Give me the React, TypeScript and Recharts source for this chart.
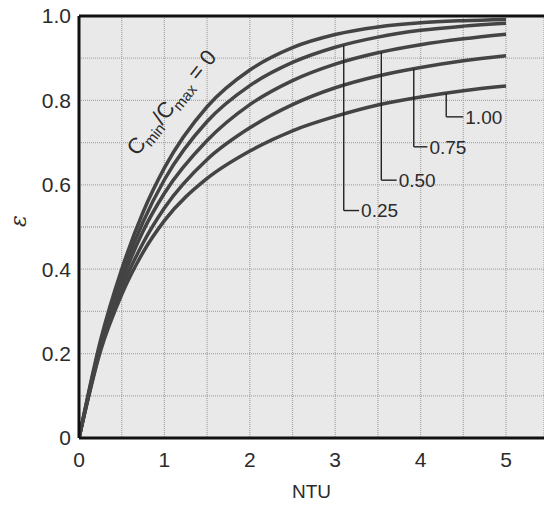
import React from "react";
import {
  LineChart,
  Line,
  XAxis,
  YAxis,
  CartesianGrid,
  ReferenceLine,
  ReferenceDot,
} from "recharts";

// NTU sample points and effectiveness, one array per Cmin/Cmax
const ntu = [0, 0.25, 0.5, 0.75, 1, 1.5, 2, 2.5, 3, 3.5, 4, 4.5, 5];
const effCr000 = [0, 0.23, 0.4, 0.535, 0.64, 0.785, 0.872, 0.925, 0.956, 0.974, 0.984, 0.989, 0.992];
const effCr025 = [0, 0.222, 0.385, 0.512, 0.612, 0.75, 0.835, 0.89, 0.926, 0.95, 0.966, 0.976, 0.983];
const effCr050 = [0, 0.215, 0.37, 0.49, 0.58, 0.705, 0.79, 0.847, 0.886, 0.913, 0.932, 0.946, 0.957];
const effCr075 = [0, 0.21, 0.355, 0.462, 0.545, 0.66, 0.735, 0.79, 0.83, 0.858, 0.878, 0.894, 0.906];
const effCr100 = [0, 0.205, 0.34, 0.44, 0.515, 0.615, 0.68, 0.728, 0.762, 0.789, 0.808, 0.823, 0.834];

const xTicks = [0, 0.5, 1, 1.5, 2, 2.5, 3, 3.5, 4, 4.5, 5];
const yTicks = [0, 0.1, 0.2, 0.3, 0.4, 0.5, 0.6, 0.7, 0.8, 0.9, 1.0];
const yLabels = ["0", "", "0.2", "", "0.4", "", "0.6", "", "0.8", "", "1.0"];

// leader annotations: [label, NTU of leader, eps on curve, eps at bend, NTU at label]
const leaders: [string, number, number, number, number][] = [
  ["0.25", 3.1, 0.93, 0.539, 3.28],
  ["0.50", 3.54, 0.914, 0.611, 3.72],
  ["0.75", 3.92, 0.875, 0.69, 4.08],
  ["1.00", 4.3, 0.817, 0.761, 4.5],
];

const data = ntu.map((n, i) => ({
  ntu: n,
  c0: effCr000[i],
  c25: effCr025[i],
  c50: effCr050[i],
  c75: effCr075[i],
  c100: effCr100[i],
}));

const series = ["c0", "c25", "c50", "c75", "c100"];
const FONT = "'Liberation Sans', Arial, sans-serif";
const INK = "#2b2b2b";

export default function App() {
  return (
    <div style={{ width: 544, height: 506 }}>
      <style>{"body{margin:0}"}</style>
      <LineChart
        width={544}
        height={506}
        data={data}
        margin={{ top: 16, right: 0, bottom: 0, left: 0 }}
      >
        <CartesianGrid
          fill="#e9e9e9"
          stroke="#a8a8a8"
          strokeDasharray="1 1"
          strokeWidth={1.3}
        />
        <XAxis
          dataKey="ntu"
          type="number"
          domain={[0, 5.445]}
          ticks={xTicks}
          allowDataOverflow
          height={68}
          tickLine={false}
          tickMargin={8}
          axisLine={{ stroke: "#111", strokeWidth: 3 }}
          tickFormatter={(v: number) => (Number.isInteger(v) ? String(v) : "")}
          tick={{ fill: INK, fontSize: 21, fontFamily: FONT }}
          label={{
            value: "NTU",
            position: "insideBottom",
            offset: 8,
            fill: INK,
            fontSize: 19,
            fontFamily: FONT,
          }}
        />
        <YAxis
          type="number"
          domain={[0, 1]}
          ticks={yTicks}
          width={79}
          tickLine={false}
          axisLine={{ stroke: "#111", strokeWidth: 3 }}
          tickFormatter={(v: number) => yLabels[Math.round(v * 10)]}
          tick={{ fill: INK, fontSize: 21, fontFamily: FONT }}
          label={{
            value: "ε",
            angle: -90,
            position: "insideLeft",
            offset: 18,
            fill: INK,
            fontSize: 22,
            fontStyle: "italic",
            fontFamily: "'DejaVu Serif', serif",
          }}
        />
        <ReferenceLine y={1} stroke="#111" strokeWidth={3} />
        {series.map((k) => (
          <Line
            key={k}
            dataKey={k}
            type="monotone"
            stroke="#444"
            strokeWidth={3.5}
            dot={false}
            isAnimationActive={false}
          />
        ))}
        {leaders.map(([lab, x, yTop, yBend]) => (
          <ReferenceLine
            key={"v" + lab}
            segment={[
              { x, y: yTop },
              { x, y: yBend },
            ]}
            stroke="#222"
            strokeWidth={1.4}
          />
        ))}
        {leaders.map(([lab, x, , yBend, xEnd]) => (
          <ReferenceLine
            key={"h" + lab}
            segment={[
              { x, y: yBend },
              { x: xEnd, y: yBend },
            ]}
            stroke="#222"
            strokeWidth={1.4}
          />
        ))}
        {leaders.map(([lab, , , yBend, xEnd]) => (
          <ReferenceDot
            key={"t" + lab}
            x={xEnd}
            y={yBend}
            r={0}
            shape={(p: any) => (
              <text
                x={p.cx + 2}
                y={p.cy}
                dy="0.36em"
                fill={INK}
                fontSize={19}
                fontFamily={FONT}
              >
                {lab}
              </text>
            )}
          />
        ))}
        <ReferenceDot
          x={1.15}
          y={0.784}
          r={0}
          shape={(p: any) => (
            <text
              x={p.cx}
              y={p.cy}
              textAnchor="middle"
              fill={INK}
              fontSize={22}
              fontFamily={FONT}
              transform={`rotate(-51 ${p.cx} ${p.cy})`}
            >
              C
              <tspan fontSize={15} dy={5}>
                min
              </tspan>
              <tspan dy={-5}>/C</tspan>
              <tspan fontSize={15} dy={5}>
                max
              </tspan>
              <tspan dy={-5}> = 0</tspan>
            </text>
          )}
        />
      </LineChart>
    </div>
  );
}
